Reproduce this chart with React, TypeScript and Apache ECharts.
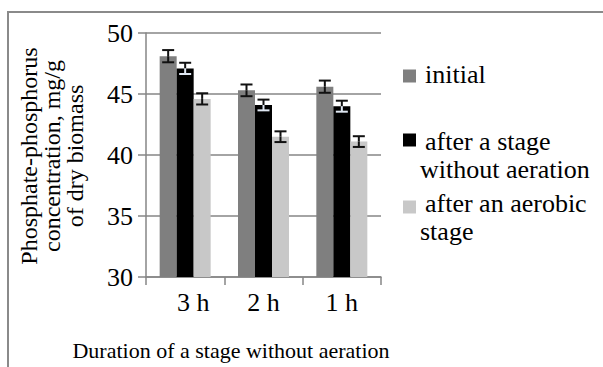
import React, { useEffect, useRef } from "react";
import * as echarts from "echarts";

const categories = ["3 h", "2 h", "1 h"];
const seriesNames = ["initial", "after a stage without aeration", "after an aerobic stage"];
const legendLines = [["initial"], ["after a stage", "without aeration"], ["after an aerobic ", "stage"]];
const initialValues = [48.1, 45.3, 45.6];
const anoxicValues = [47.1, 44.1, 44.0];
const aerobicValues = [44.6, 41.5, 41.1];
const initialErrors = [0.5, 0.48, 0.5];
const anoxicErrors = [0.46, 0.44, 0.45];
const aerobicErrors = [0.46, 0.44, 0.44];
const yTicks = { min: 30, max: 50, interval: 5 };
const yTitleLines = ["Phosphate-phosphorus", "concentration, mg/g", "of dry biomass"];
const xTitle = "Duration of a stage without aeration";

const FONT = "Liberation Serif";
const BAR_W = 17;
const colors = ["#7f7f7f", "#000000", "#c8c8c8"];

function errSeries(idx: number, values: number[], errs: number[], lowColor: string) {
  return {
    type: "custom",
    name: "err" + idx,
    z: 10,
    data: values.map((v, i) => [i, v, errs[i]]),
    encode: { x: 0, y: 1 },
    silent: true,
    renderItem: (params: any, api: any) => {
      const ci = api.value(0);
      const v = api.value(1);
      const e = api.value(2);
      const c = api.coord([ci, v]);
      const t = api.coord([ci, v + e]);
      const b = api.coord([ci, v - e]);
      const x = c[0] + (idx - 1) * BAR_W;
      const hw = 6;
      const dark = { stroke: "#111", lineWidth: 2 };
      const low = { stroke: lowColor, lineWidth: 2 };
      return {
        type: "group",
        children: [
          { type: "line", shape: { x1: x, y1: t[1], x2: x, y2: c[1] }, style: dark },
          { type: "line", shape: { x1: x - hw, y1: t[1], x2: x + hw, y2: t[1] }, style: dark },
          { type: "line", shape: { x1: x, y1: c[1], x2: x, y2: b[1] }, style: low },
          { type: "line", shape: { x1: x - hw, y1: b[1], x2: x + hw, y2: b[1] }, style: low },
        ],
      };
    },
  };
}

export default function App() {
  const ref = useRef<HTMLDivElement>(null);
  useEffect(() => {
    if (!ref.current) return;
    const chart = echarts.init(ref.current, undefined, { renderer: "svg" });

    const legendIconY = [76, 140, 207];
    const legendFirstLineY = [74, 141, 203];
    const legendGraphics: any[] = [];
    legendLines.forEach((lines, i) => {
      legendGraphics.push({
        type: "rect",
        shape: { x: 403, y: legendIconY[i] - 6.5, width: 13, height: 13 },
        style: { fill: colors[i] },
        silent: true,
      });
      lines.forEach((l, j) => {
        legendGraphics.push({
          type: "text",
          x: j === 0 ? 425 : 420,
          y: legendFirstLineY[i] + j * 28,
          style: { text: l, fontFamily: FONT, fontSize: 26, fill: "#000", align: "left", verticalAlign: "middle" },
          silent: true,
        });
      });
    });

    const yTitleX = [29, 52, 74.5];
    const yTitleGraphics = yTitleLines.map((l, i) => ({
      type: "text",
      x: yTitleX[i],
      y: 156,
      rotation: Math.PI / 2,
      style: { text: l, fontFamily: FONT, fontSize: 24, fill: "#000", align: "center", verticalAlign: "middle" },
      silent: true,
    }));

    chart.setOption({
      animation: false,
      textStyle: { fontFamily: FONT },
      graphic: [
        {
          type: "rect",
          shape: { x: 8, y: 12, width: 800, height: 600 },
          style: { fill: "none", stroke: "#8a8a8a", lineWidth: 2 },
          silent: true,
        },
        ...legendGraphics,
        ...yTitleGraphics,
      ],
      grid: { left: 146, right: 222, top: 33, bottom: 90 },
      xAxis: {
        type: "category",
        data: categories,
        name: xTitle,
        nameLocation: "middle",
        nameGap: 62,
        nameTextStyle: { fontFamily: FONT, fontSize: 22, color: "#000", padding: [0, 65, 0, 0] },
        axisLine: { lineStyle: { color: "#868686", width: 1.5 } },
        axisTick: { show: true, length: 8, lineStyle: { color: "#868686", width: 1.5 } },
        axisLabel: {
          interval: 0,
          fontFamily: FONT,
          fontSize: 26,
          color: "#000",
          margin: 12,
          formatter: (v: string, i: number) => (i === 0 ? "{a|" + v + "}" : v),
          rich: { a: { fontFamily: FONT, fontSize: 26, color: "#000", padding: [0, 0, 0, 16] } },
        },
      },
      yAxis: {
        type: "value",
        min: yTicks.min,
        max: yTicks.max,
        interval: yTicks.interval,
        axisLine: { show: true, lineStyle: { color: "#868686", width: 1.5 } },
        axisTick: { show: true, length: 8, lineStyle: { color: "#868686", width: 1.5 } },
        splitLine: { lineStyle: { color: "#868686", width: 1.5 } },
        axisLabel: { fontFamily: FONT, fontSize: 26, color: "#000", margin: 13 },
      },
      series: [
        { type: "bar", name: seriesNames[0], data: initialValues, barWidth: BAR_W, barGap: "0%", itemStyle: { color: colors[0] } },
        { type: "bar", name: seriesNames[1], data: anoxicValues, barWidth: BAR_W, barGap: "0%", itemStyle: { color: colors[1] } },
        { type: "bar", name: seriesNames[2], data: aerobicValues, barWidth: BAR_W, barGap: "0%", itemStyle: { color: colors[2] } },
        errSeries(0, initialValues, initialErrors, "#111"),
        errSeries(1, anoxicValues, anoxicErrors, "#dfe7f2"),
        errSeries(2, aerobicValues, aerobicErrors, "#111"),
      ],
    });
    return () => chart.dispose();
  }, []);
  return (
    <div
      ref={ref}
      style={{ position: "absolute", left: 0, top: 0, width: 603, height: 367, background: "#fff" }}
    />
  );
}
